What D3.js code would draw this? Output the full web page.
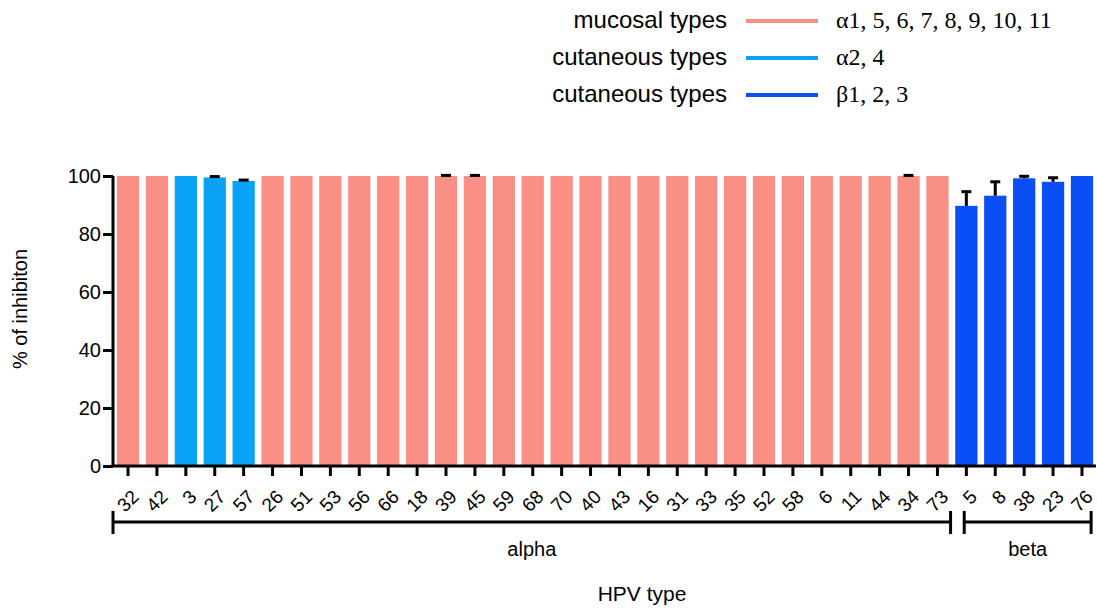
<!DOCTYPE html>
<html lang="en">
<head>
<meta charset="utf-8">
<title>HPV type inhibition</title>
<script src="https://cdn.jsdelivr.net/npm/d3@7"></script>
<style>
  body { margin: 0; background: #fff; }
  text { font-family: "Liberation Sans", Arial, sans-serif; fill: #000; }
</style>
</head>
<body>
<script>
// data
var types  = ["32","42","3","27","57","26","51","53","56","66","18","39","45","59","68","70","40","43","16","31","33","35","52","58","6","11","44","34","73","5","8","38","23","76"];
var groups = ["m","m","c","c","c","m","m","m","m","m","m","m","m","m","m","m","m","m","m","m","m","m","m","m","m","m","m","m","m","b","b","b","b","b"];
var values = [100,100,100,99.5,98.3,100,100,100,100,100,100,100,100,100,100,100,100,100,100,100,100,100,100,100,100,100,100,100,100,89.7,93.2,99.2,98.0,100];
var errors = [0,0,0,0.3,0.3,0,0,0,0,0,0,0.2,0.2,0,0,0,0,0,0,0,0,0,0,0,0,0,0,0.2,0,4.9,4.8,0.7,1.4,0];
var yTicks = [0,20,40,60,80,100];
var legendNames  = ["mucosal types","cutaneous types","cutaneous types"];
var legendGroups = ["m","c","b"];
var legendLabels = ["\u03b11, 5, 6, 7, 8, 9, 10, 11","\u03b12, 4","\u03b21, 2, 3"];
var brackets = [{name:"alpha", from:"32", to:"73"}, {name:"beta", from:"5", to:"76"}];

var colors = {m:"#fa8f86", c:"#0aa2f7", b:"#0a4ef5"};

var w = 1097, h = 613;
var svg = d3.select("body").append("svg").attr("width", w).attr("height", h);

var x = d3.scaleBand().domain(types).range([114, 1096]).paddingInner(0.23).paddingOuter(0.1);
var y = d3.scaleLinear().domain([0, 100]).range([466, 176]);

// bars
svg.selectAll("rect.bar")
   .data(types)
   .enter()
   .append("rect")
   .attr("class", "bar")
   .attr("x", function(d) { return x(d); })
   .attr("y", function(d, i) { return y(values[i]); })
   .attr("width", x.bandwidth())
   .attr("height", function(d, i) { return y(0) - y(values[i]); })
   .attr("fill", function(d, i) { return colors[groups[i]]; });

// error bars (upper only)
var eb = svg.selectAll("g.err")
   .data(types.filter(function(d, i) { return errors[i] > 0; }))
   .enter()
   .append("g")
   .attr("stroke", "#000")
   .attr("stroke-width", 3);
eb.append("line")
   .attr("x1", function(d) { return x(d) + x.bandwidth() / 2; })
   .attr("x2", function(d) { return x(d) + x.bandwidth() / 2; })
   .attr("y1", function(d) { return y(values[types.indexOf(d)]); })
   .attr("y2", function(d) { var i = types.indexOf(d); return y(values[i] + errors[i]); });
eb.append("line")
   .attr("x1", function(d) { return x(d) + x.bandwidth() / 2 - 5; })
   .attr("x2", function(d) { return x(d) + x.bandwidth() / 2 + 5; })
   .attr("y1", function(d) { var i = types.indexOf(d); return y(values[i] + errors[i]); })
   .attr("y2", function(d) { var i = types.indexOf(d); return y(values[i] + errors[i]); });

// y axis
var yAxis = svg.append("g")
   .attr("transform", "translate(113,0)")
   .call(d3.axisLeft(y).tickValues(yTicks).tickSize(10).tickPadding(2));
yAxis.select(".domain").attr("stroke-width", 3).attr("d", "M0," + y(0) + "V" + y(100));
yAxis.selectAll(".tick line").attr("stroke-width", 3);
yAxis.selectAll(".tick text").attr("font-size", 20).attr("font-family", "Liberation Sans, Arial, sans-serif");

// x axis
var xAxis = svg.append("g")
   .attr("transform", "translate(0," + y(0) + ")")
   .call(d3.axisBottom(x).tickSize(10).tickPadding(4));
xAxis.select(".domain").attr("stroke-width", 3).attr("d", "M111.5,0H1096");
xAxis.selectAll(".tick line").attr("stroke-width", 3);
xAxis.selectAll(".tick text")
   .attr("font-size", 19)
   .attr("font-family", "Liberation Sans, Arial, sans-serif")
   .attr("text-anchor", "end")
   .attr("y", 0)
   .attr("dy", 0)
   .attr("transform", "translate(12,32) rotate(-45)");

// group brackets
function bx0(d, i) { return i === 0 ? 113 : x(d.from) + 9; }
function bx1(d, i) { return i === 0 ? x(d.to) + x.bandwidth() + 2 : x(d.to) + x.bandwidth() - 2; }
var br = svg.selectAll("g.bracket")
   .data(brackets)
   .enter()
   .append("g")
   .attr("stroke", "#000")
   .attr("stroke-width", 3);
br.append("line")
   .attr("x1", bx0).attr("x2", bx1)
   .attr("y1", 522).attr("y2", 522);
br.append("line")
   .attr("x1", bx0).attr("x2", bx0)
   .attr("y1", 511).attr("y2", 534);
br.append("line")
   .attr("x1", bx1).attr("x2", bx1)
   .attr("y1", 511).attr("y2", 534);
svg.selectAll("text.bracket")
   .data(brackets)
   .enter()
   .append("text")
   .attr("x", function(d, i) { return (bx0(d, i) + bx1(d, i)) / 2; })
   .attr("y", 556)
   .attr("text-anchor", "middle")
   .attr("font-size", 20)
   .text(function(d) { return d.name; });

// axis titles
svg.append("text")
   .attr("x", 642).attr("y", 601)
   .attr("text-anchor", "middle")
   .attr("font-size", 21)
   .text("HPV type");
svg.append("text")
   .attr("transform", "translate(27,309) rotate(-90)")
   .attr("text-anchor", "middle")
   .attr("font-size", 20)
   .text("% of inhibiton");

// legend
var lg = svg.selectAll("g.legend")
   .data(legendNames)
   .enter()
   .append("g")
   .attr("transform", function(d, i) { return "translate(0," + (21 + i * 37) + ")"; });
lg.append("text")
   .attr("x", 727).attr("dy", "0.28em")
   .attr("text-anchor", "end")
   .attr("font-size", 24)
   .text(function(d) { return d; });
lg.append("line")
   .attr("x1", 746).attr("x2", 818)
   .attr("stroke-width", 4)
   .attr("stroke", function(d, i) { return colors[legendGroups[i]]; });
lg.append("text")
   .attr("x", 836).attr("dy", "0.3em")
   .attr("font-size", 24)
   .style("font-family", "'Liberation Serif', 'DejaVu Serif', serif")
   .text(function(d, i) { return legendLabels[i]; });
</script>
</body>
</html>
